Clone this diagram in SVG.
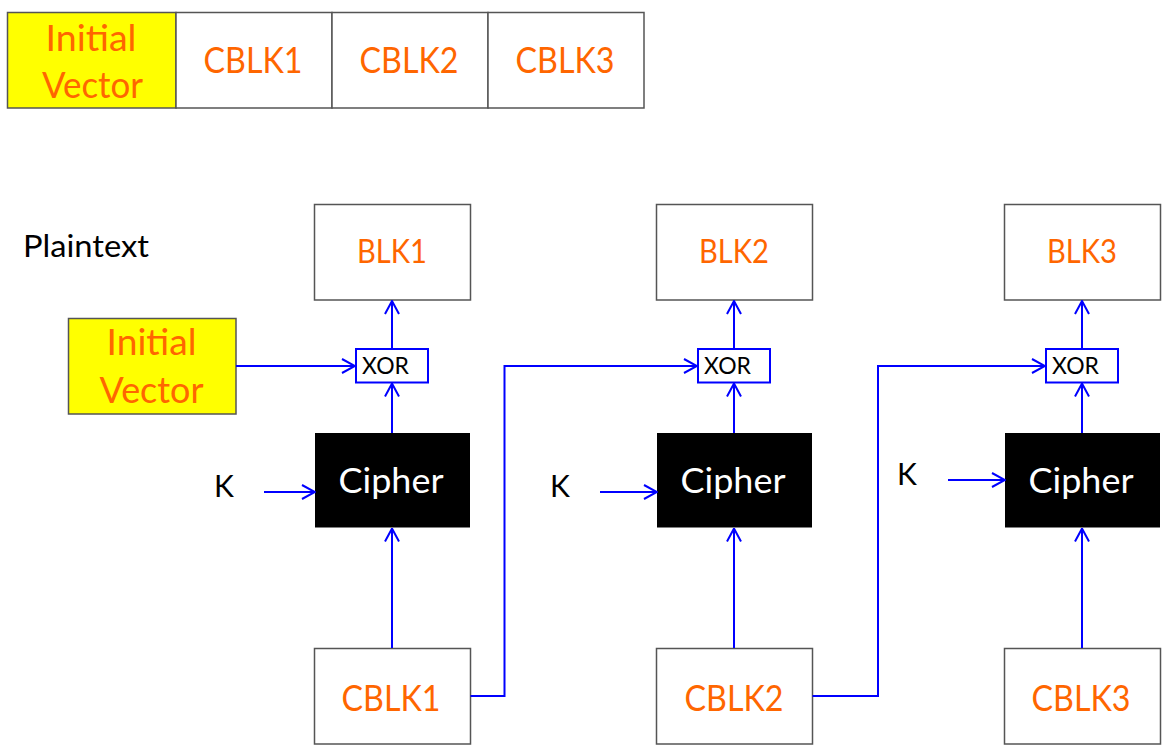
<svg xmlns="http://www.w3.org/2000/svg" width="1162" height="746" viewBox="0 0 1162 746">
<style>
.box{fill:#fff;stroke:#555;stroke-width:1.5}
.iv{fill:#ffff00;stroke:#555;stroke-width:1.5}
.ciph{fill:#000}
.xor{fill:#fff;stroke:#0000ff;stroke-width:2}
.org{font-family:Lato,"Liberation Sans",sans-serif;fill:#ff6600;text-anchor:middle}
.big{font-size:37px}
.mid{font-size:32px}
.wt{font-family:Lato,"Liberation Sans",sans-serif;fill:#fff;font-size:34px;text-anchor:middle}
.bk{font-family:Lato,"Liberation Sans",sans-serif;fill:#000}
.ln{fill:none;stroke:#0000ff;stroke-width:2}
</style>
<defs>
<marker id="ah" markerUnits="userSpaceOnUse" viewBox="0 0 15 16" refX="14" refY="8" markerWidth="15" markerHeight="16" orient="auto">
<path d="M1,1 L14,8 L1,15" fill="none" stroke="#0000ff" stroke-width="2"/>
</marker>
</defs>
<rect width="1162" height="746" fill="#fff"/>

<g id="topbar">
<rect class="iv" x="7.5" y="12.5" width="168.5" height="95.5"/>
<rect class="box" x="176" y="12.5" width="156" height="95.5"/>
<rect class="box" x="332" y="12.5" width="156" height="95.5"/>
<rect class="box" x="488" y="12.5" width="156" height="95.5"/>
<text class="org big" x="91" y="51" textLength="91" lengthAdjust="spacingAndGlyphs">Initial</text>
<text class="org big" x="92.5" y="98" textLength="101" lengthAdjust="spacingAndGlyphs">Vector</text>
<text class="org big" x="253" y="73" textLength="99" lengthAdjust="spacingAndGlyphs">CBLK1</text>
<text class="org big" x="409" y="73" textLength="99" lengthAdjust="spacingAndGlyphs">CBLK2</text>
<text class="org big" x="565" y="73" textLength="99" lengthAdjust="spacingAndGlyphs">CBLK3</text>
</g>

<g id="plaintext-label">
<text class="bk" x="23" y="256.5" font-size="30" textLength="126" lengthAdjust="spacingAndGlyphs">Plaintext</text>
</g>

<g id="iv-left">
<rect class="iv" x="68.5" y="318.5" width="167.5" height="95.5"/>
<text class="org big" x="151.5" y="355" textLength="90" lengthAdjust="spacingAndGlyphs">Initial</text>
<text class="org big" x="151.5" y="403" textLength="104" lengthAdjust="spacingAndGlyphs">Vector</text>
</g>

<g id="blk1">
<rect class="box" x="314.5" y="204.5" width="156" height="95.5"/>
<text class="org mid" x="392" y="263.3" textLength="70" lengthAdjust="spacingAndGlyphs">BLK1</text>
</g>
<g id="blk2">
<rect class="box" x="656.5" y="204.5" width="156" height="95.5"/>
<text class="org mid" x="734" y="263.3" textLength="70" lengthAdjust="spacingAndGlyphs">BLK2</text>
</g>
<g id="blk3">
<rect class="box" x="1004.5" y="204.5" width="156" height="95.5"/>
<text class="org mid" x="1082" y="263.3" textLength="70" lengthAdjust="spacingAndGlyphs">BLK3</text>
</g>

<g id="xor1">
<rect class="xor" x="356" y="349" width="72" height="33.5"/>
<text class="bk" x="362" y="374.3" font-size="23" textLength="47" lengthAdjust="spacingAndGlyphs">XOR</text>
</g>
<g id="xor2">
<rect class="xor" x="698" y="349" width="72" height="33.5"/>
<text class="bk" x="704" y="374.3" font-size="23" textLength="47" lengthAdjust="spacingAndGlyphs">XOR</text>
</g>
<g id="xor3">
<rect class="xor" x="1046" y="349" width="72" height="33.5"/>
<text class="bk" x="1052" y="374.3" font-size="23" textLength="47" lengthAdjust="spacingAndGlyphs">XOR</text>
</g>

<g id="cipher1">
<rect class="ciph" x="315" y="433" width="155" height="94.5"/>
<text class="wt" x="391" y="493" textLength="105" lengthAdjust="spacingAndGlyphs">Cipher</text>
</g>
<g id="cipher2">
<rect class="ciph" x="657" y="433" width="155" height="94.5"/>
<text class="wt" x="733" y="493" textLength="105" lengthAdjust="spacingAndGlyphs">Cipher</text>
</g>
<g id="cipher3">
<rect class="ciph" x="1005" y="433" width="155" height="94.5"/>
<text class="wt" x="1081" y="493" textLength="105" lengthAdjust="spacingAndGlyphs">Cipher</text>
</g>

<g id="k1"><text class="bk" x="224" y="496.7" font-size="30" text-anchor="middle">K</text></g>
<g id="k2"><text class="bk" x="560" y="496.7" font-size="30" text-anchor="middle">K</text></g>
<g id="k3"><text class="bk" x="907" y="485" font-size="30" text-anchor="middle">K</text></g>

<g id="cblk1">
<rect class="box" x="314.5" y="648.5" width="156" height="95.5"/>
<text class="org big" x="391" y="710.7" textLength="99" lengthAdjust="spacingAndGlyphs">CBLK1</text>
</g>
<g id="cblk2">
<rect class="box" x="656.5" y="648.5" width="156" height="95.5"/>
<text class="org big" x="734" y="710.7" textLength="99" lengthAdjust="spacingAndGlyphs">CBLK2</text>
</g>
<g id="cblk3">
<rect class="box" x="1004.5" y="648.5" width="156" height="95.5"/>
<text class="org big" x="1081" y="710.7" textLength="99" lengthAdjust="spacingAndGlyphs">CBLK3</text>
</g>

<g id="connectors" class="ln">
<line x1="392" y1="349" x2="392" y2="301" marker-end="url(#ah)"/>
<line x1="392" y1="433" x2="392" y2="383.5" marker-end="url(#ah)"/>
<line x1="392" y1="648" x2="392" y2="528.5" marker-end="url(#ah)"/>
<line x1="264" y1="492" x2="315" y2="492" marker-end="url(#ah)"/>
<line x1="236" y1="366" x2="355" y2="366" marker-end="url(#ah)"/>
<polyline points="470.5,696 504.5,696 504.5,366 697,366" marker-end="url(#ah)"/>

<line x1="734" y1="349" x2="734" y2="301" marker-end="url(#ah)"/>
<line x1="734" y1="433" x2="734" y2="383.5" marker-end="url(#ah)"/>
<line x1="734" y1="648" x2="734" y2="528.5" marker-end="url(#ah)"/>
<line x1="600" y1="492" x2="657" y2="492" marker-end="url(#ah)"/>
<polyline points="812.5,696 878,696 878,366 1045,366" marker-end="url(#ah)"/>

<line x1="1082" y1="349" x2="1082" y2="301" marker-end="url(#ah)"/>
<line x1="1082" y1="433" x2="1082" y2="383.5" marker-end="url(#ah)"/>
<line x1="1082" y1="648" x2="1082" y2="528.5" marker-end="url(#ah)"/>
<line x1="948" y1="480" x2="1005" y2="480" marker-end="url(#ah)"/>
</g>
</svg>
